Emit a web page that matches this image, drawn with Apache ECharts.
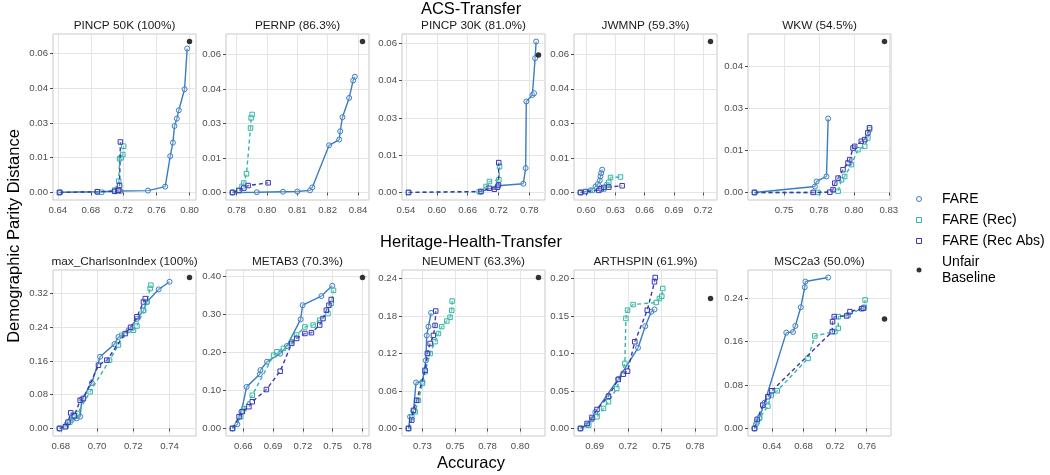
<!DOCTYPE html>
<html><head><meta charset="utf-8">
<script src="https://cdn.jsdelivr.net/npm/echarts@6/dist/echarts.min.js"></script>
<style>html,body{margin:0;padding:0;background:#fff}#chart{width:1050px;height:475px}</style>
</head><body><div id="chart"></div>
<script>
// ---------- titles ----------
const panelTitles = ['PINCP 50K (100%)','PERNP (86.3%)','PINCP 30K (81.0%)','JWMNP (59.3%)','WKW (54.5%)',
  'max_CharlsonIndex (100%)','METAB3 (70.3%)','NEUMENT (63.3%)','ARTHSPIN (61.9%)','MSC2a3 (50.0%)'];
const rowTitles = ['ACS-Transfer','Heritage-Health-Transfer'];
const seriesNames = ['FARE','FARE (Rec)','FARE (Rec Abs)','Unfair Baseline'];

// ---------- tick values and labels ----------
const xTicks = [
  [0.64,0.68,0.72,0.76,0.80],[0.78,0.795,0.81,0.825,0.84],[0.54,0.60,0.66,0.72,0.78],[0.60,0.63,0.66,0.69,0.72],[0.75,0.775,0.80,0.825],
  [0.68,0.70,0.72,0.74],[0.66,0.69,0.72,0.75,0.78],[0.725,0.75,0.775,0.80],[0.69,0.72,0.75,0.78],[0.64,0.68,0.72,0.76]];
const xTickLabels = [
  ['0.64','0.68','0.72','0.76','0.80'],['0.78','0.80','0.81','0.82','0.84'],['0.54','0.60','0.66','0.72','0.78'],['0.60','0.63','0.66','0.69','0.72'],['0.75','0.78','0.80','0.83'],
  ['0.68','0.70','0.72','0.74'],['0.66','0.69','0.72','0.75','0.78'],['0.73','0.75','0.78','0.80'],['0.69','0.72','0.75','0.78'],['0.64','0.68','0.72','0.76']];
const yTicks = [
  [0,0.015,0.03,0.045,0.06],[0,0.015,0.03,0.045,0.06],[0,0.015,0.03,0.045,0.06],[0,0.015,0.03,0.045,0.06],[0,0.015,0.03,0.045],
  [0,0.08,0.16,0.24,0.32],[0,0.1,0.2,0.3,0.4],[0,0.06,0.12,0.18,0.24],[0,0.05,0.1,0.15,0.2],[0,0.08,0.16,0.24]];
const yTickLabels = [
  ['0.00','0.01','0.03','0.04','0.06'],['0.00','0.01','0.03','0.04','0.06'],['0.00','0.01','0.03','0.04','0.06'],['0.00','0.01','0.03','0.04','0.06'],['0.00','0.01','0.03','0.04'],
  ['0.00','0.08','0.16','0.24','0.32'],['0.00','0.10','0.20','0.30','0.40'],['0.00','0.06','0.12','0.18','0.24'],['0.00','0.05','0.10','0.15','0.20'],['0.00','0.08','0.16','0.24']];

// ---------- data: [accuracy, demographic parity distance] ----------
const FARE_PINCP50K = [[0.643,0.0001],[0.688,0.0003],[0.710,0.0005],[0.716,0.0006],[0.7495,0.0008],[0.7705,0.0025],[0.7766,0.0157],[0.7798,0.0215],[0.7818,0.0287],[0.7846,0.0319],[0.787,0.0355],[0.794,0.0446],[0.7972,0.0622]];
const REC_PINCP50K = [[0.642,0],[0.693,0.0001],[0.709,0.001],[0.714,0.0049],[0.715,0.0146],[0.717,0.015],[0.719,0.0164],[0.72,0.020]];
const ABS_PINCP50K = [[0.642,0],[0.688,0.0003],[0.709,0.0005],[0.713,0.0008],[0.714,0.001],[0.715,0.003],[0.716,0.0218]];
const BASE_PINCP50K = [[0.80,0.0652]];

const FARE_PERNP = [[0.778,0],[0.790,0.0001],[0.8029,0.0003],[0.81,0.0004],[0.8163,0.0009],[0.8174,0.0022],[0.8257,0.0205],[0.8307,0.023],[0.8312,0.0266],[0.8323,0.0327],[0.8356,0.0411],[0.8376,0.0487],[0.8384,0.0503]];
const REC_PERNP = [[0.778,0],[0.7815,0.0008],[0.7827,0.0026],[0.7836,0.0041],[0.7849,0.0081],[0.7869,0.028],[0.7872,0.0324],[0.7877,0.0339]];
const ABS_PERNP = [[0.778,0],[0.7811,0.0009],[0.7836,0.0019],[0.7857,0.003],[0.7956,0.0042]];
const BASE_PERNP = [[0.8422,0.0656]];

const FARE_PINCP30K = [[0.686,0.0003],[0.7189,0.0027],[0.7682,0.0035],[0.7728,0.0098],[0.7741,0.0366],[0.7859,0.0392],[0.7892,0.0399],[0.7912,0.054],[0.7932,0.0607]];
const REC_PINCP30K = [[0.545,0],[0.6827,0.0003],[0.6958,0.0024],[0.7024,0.0044],[0.7208,0.0051],[0.7221,0.0104]];
const ABS_PINCP30K = [[0.545,0],[0.686,0.0004],[0.702,0.0017],[0.712,0.0013],[0.718,0.0021],[0.720,0.003],[0.7205,0.012]];
const BASE_PINCP30K = [[0.7978,0.0553]];

const FARE_JWMNP = [[0.5942,0],[0.6044,0.0009],[0.6096,0.0026],[0.612,0.0036],[0.614,0.0052],[0.6147,0.007],[0.6154,0.0084],[0.6164,0.0099]];
const REC_JWMNP = [[0.5942,0],[0.6062,0.0009],[0.6181,0.0015],[0.6215,0.0033],[0.6232,0.0044],[0.625,0.0065],[0.6352,0.0067]];
const ABS_JWMNP = [[0.5942,0],[0.5993,0.0004],[0.613,0.0009],[0.6154,0.0016],[0.6181,0.0022],[0.6232,0.0023],[0.6369,0.0029]];
const BASE_JWMNP = [[0.7275,0.0655]];

const FARE_WKW = [[0.7289,0],[0.7721,0.0021],[0.7733,0.0039],[0.7804,0.0057],[0.7816,0.0263]];
const REC_WKW = [[0.7289,0],[0.7744,0],[0.7887,0.0004],[0.7911,0.0045],[0.7934,0.0057],[0.7982,0.0099],[0.8029,0.0152],[0.8077,0.0164],[0.81,0.0194],[0.8112,0.0224]];
const ABS_WKW = [[0.7289,0],[0.7709,0],[0.7828,0.0001],[0.7851,0.001],[0.7863,0.0033],[0.7887,0.0051],[0.7922,0.0081],[0.7958,0.0105],[0.797,0.0117],[0.7994,0.0158],[0.8006,0.0164],[0.8053,0.0182],[0.8077,0.0188],[0.81,0.0212],[0.8112,0.023]];
const BASE_WKW = [[0.8219,0.0537]];

const FARE_CHARLSON = [[0.6793,0],[0.6833,0.01],[0.6861,0.02],[0.6888,0.024],[0.6907,0.028],[0.6916,0.069],[0.6971,0.108],[0.7017,0.17],[0.7096,0.2],[0.7118,0.217],[0.7174,0.233],[0.722,0.26],[0.7256,0.28],[0.7275,0.30],[0.734,0.33],[0.74,0.348]];
const REC_CHARLSON = [[0.6793,0],[0.683,0.006],[0.685,0.015],[0.687,0.0316],[0.6892,0.0356],[0.6962,0.087],[0.7069,0.162],[0.7118,0.198],[0.7137,0.221],[0.7201,0.233],[0.722,0.243],[0.7256,0.28],[0.7275,0.30],[0.7293,0.332],[0.7297,0.34]];
const ABS_CHARLSON = [[0.6793,0],[0.6825,0.004],[0.684,0.015],[0.6855,0.037],[0.6875,0.03],[0.6907,0.067],[0.6925,0.071],[0.7008,0.15],[0.7054,0.162],[0.7155,0.225],[0.7185,0.24],[0.722,0.265],[0.7256,0.30],[0.7266,0.308]];
const BASE_CHARLSON = [[0.751,0.358]];

const FARE_METAB3 = [[0.6491,0],[0.654,0.011],[0.658,0.044],[0.6633,0.109],[0.6766,0.142],[0.6772,0.153],[0.6839,0.175],[0.6971,0.196],[0.7038,0.216],[0.7177,0.286],[0.7197,0.323],[0.7386,0.347],[0.7495,0.374]];
const REC_METAB3 = [[0.6491,0],[0.6573,0.031],[0.6607,0.052],[0.669,0.087],[0.6905,0.192],[0.6938,0.201],[0.7004,0.21],[0.7087,0.227],[0.7137,0.245],[0.722,0.266],[0.7303,0.271],[0.7369,0.284],[0.7452,0.301],[0.7485,0.328],[0.7508,0.362]];
const ABS_METAB3 = [[0.6491,0],[0.6557,0.031],[0.659,0.044],[0.6656,0.057],[0.669,0.07],[0.6832,0.102],[0.6971,0.15],[0.7087,0.223],[0.7137,0.236],[0.722,0.249],[0.7286,0.251],[0.7369,0.271],[0.7402,0.288],[0.7436,0.31],[0.7462,0.323],[0.7485,0.338]];
const BASE_METAB3 = [[0.78,0.3956]];

const FARE_NEUMENT = [[0.7143,0],[0.7155,0.0187],[0.7181,0.028],[0.7201,0.0736],[0.725,0.0747],[0.7276,0.109],[0.7283,0.149],[0.7296,0.163],[0.7317,0.185]];
const REC_NEUMENT = [[0.7143,0],[0.7168,0.0187],[0.7194,0.0267],[0.7219,0.045],[0.725,0.072],[0.727,0.0907],[0.7309,0.12],[0.7347,0.139],[0.7373,0.152],[0.7398,0.163],[0.7437,0.172],[0.7462,0.178],[0.7475,0.189],[0.7478,0.204]];
const ABS_NEUMENT = [[0.7143,0],[0.7168,0.0133],[0.7181,0.029],[0.7206,0.045],[0.727,0.093],[0.7288,0.12],[0.7309,0.136],[0.7334,0.149],[0.7347,0.165],[0.7352,0.188]];
const BASE_NEUMENT = [[0.8141,0.2416]];

const FARE_ARTHSPIN = [[0.6773,0],[0.6832,0.0044],[0.6876,0.012],[0.6906,0.022],[0.7112,0.066],[0.7289,0.1076],[0.7354,0.1364],[0.7408,0.1556],[0.7437,0.1587]];
const REC_ARTHSPIN = [[0.6773,0],[0.6847,0.0044],[0.6921,0.0156],[0.698,0.0267],[0.7024,0.0356],[0.7098,0.0533],[0.7171,0.0867],[0.718,0.1467],[0.7195,0.1578],[0.7245,0.1653],[0.7452,0.168],[0.7481,0.1733],[0.7502,0.1764],[0.7511,0.1867]];
const ABS_ARTHSPIN = [[0.6773,0],[0.6832,0.0067],[0.6876,0.0147],[0.6921,0.0253],[0.7024,0.0431],[0.7112,0.0653],[0.7157,0.0724],[0.7195,0.0764],[0.726,0.1156],[0.7372,0.1578],[0.7437,0.1956],[0.7443,0.2013]];
const BASE_ARTHSPIN = [[0.7939,0.1733]];

const FARE_MSC2A3 = [[0.618,0],[0.6199,0.008],[0.6243,0.0203],[0.6307,0.0474],[0.6582,0.1766],[0.6667,0.1778],[0.6697,0.1889],[0.6765,0.2234],[0.6816,0.2603],[0.6824,0.2708],[0.7112,0.2782]];
const REC_MSC2A3 = [[0.618,0],[0.6213,0.0123],[0.6243,0.0185],[0.6349,0.0412],[0.6392,0.0615],[0.6468,0.0695],[0.6858,0.1292],[0.6943,0.1705],[0.7197,0.1785],[0.724,0.1846],[0.7242,0.2062],[0.7367,0.2092],[0.757,0.2234],[0.7579,0.2369]];
const ABS_MSC2A3 = [[0.618,0],[0.6213,0.0166],[0.6285,0.0431],[0.6349,0.0585],[0.64,0.0695],[0.7163,0.1785],[0.7167,0.1969],[0.7189,0.2062],[0.7346,0.2074],[0.7388,0.2154],[0.7536,0.2209],[0.7558,0.2215]];
const BASE_MSC2A3 = [[0.7825,0.2018]];

const panelData = [
  [FARE_PINCP50K, REC_PINCP50K, ABS_PINCP50K, BASE_PINCP50K],
  [FARE_PERNP, REC_PERNP, ABS_PERNP, BASE_PERNP],
  [FARE_PINCP30K, REC_PINCP30K, ABS_PINCP30K, BASE_PINCP30K],
  [FARE_JWMNP, REC_JWMNP, ABS_JWMNP, BASE_JWMNP],
  [FARE_WKW, REC_WKW, ABS_WKW, BASE_WKW],
  [FARE_CHARLSON, REC_CHARLSON, ABS_CHARLSON, BASE_CHARLSON],
  [FARE_METAB3, REC_METAB3, ABS_METAB3, BASE_METAB3],
  [FARE_NEUMENT, REC_NEUMENT, ABS_NEUMENT, BASE_NEUMENT],
  [FARE_ARTHSPIN, REC_ARTHSPIN, ABS_ARTHSPIN, BASE_ARTHSPIN],
  [FARE_MSC2A3, REC_MSC2A3, ABS_MSC2A3, BASE_MSC2A3]
];

// ---------- layout / style ----------
const colLefts = [53, 226, 402, 574, 748];
const panelW = 143, panelH = 166;
const rowTops = [34, 270];
const colors = ['#3a7dc0', '#34b6a6', '#3838b4', '#000000'];
const FONT = 'Liberation Sans, Arial, Helvetica, sans-serif';
const SQUARE = 'path://M0,0L10,0L10,10L0,10Z';

function extent(arr, k) {
  let lo = Infinity, hi = -Infinity;
  arr.forEach(s => s.forEach(p => { lo = Math.min(lo, p[k]); hi = Math.max(hi, p[k]); }));
  const pad = (hi - lo) * 0.05;
  return [lo - pad, hi + pad];
}
function labelFor(ticks, labels) {
  return v => { for (let i = 0; i < ticks.length; i++) if (Math.abs(ticks[i] - v) < 1e-9) return labels[i]; return ''; };
}

const grids = [], xAxes = [], yAxes = [], series = [], graphics = [];
for (let i = 0; i < 10; i++) {
  const r = Math.floor(i / 5), c = i % 5;
  const left = colLefts[c], top = rowTops[r];
  grids.push({ left: left, top: top, width: panelW, height: panelH, show: true,
    borderColor: '#c9c9c9', borderWidth: 1, backgroundColor: '#ffffff', containLabel: false });
  const xe = extent(panelData[i], 0), ye = extent(panelData[i], 1);
  xAxes.push({ type: 'value', gridIndex: i, min: xe[0], max: xe[1], scale: true,
    axisLine: { show: false },
    axisTick: { show: true, length: 3, lineStyle: { color: '#4d4d4d', width: 1 }, customValues: xTicks[i] },
    axisLabel: { customValues: xTicks[i], formatter: labelFor(xTicks[i], xTickLabels[i]),
      fontSize: 9.6, color: '#4d4d4d', fontFamily: FONT, margin: 5 },
    splitLine: { show: true, lineStyle: { color: '#e4e4e4', width: 1 } } });
  yAxes.push({ type: 'value', gridIndex: i, min: ye[0], max: ye[1], scale: true,
    axisLine: { show: false },
    axisTick: { show: true, length: 3, lineStyle: { color: '#4d4d4d', width: 1 }, customValues: yTicks[i] },
    axisLabel: { customValues: yTicks[i], formatter: labelFor(yTicks[i], yTickLabels[i]),
      fontSize: 9.6, color: '#4d4d4d', fontFamily: FONT, margin: 5 },
    splitLine: { show: true, lineStyle: { color: '#e4e4e4', width: 1 } } });
  graphics.push({ type: 'text', style: { text: panelTitles[i], x: left + panelW / 2, y: top - 8,
    align: 'center', verticalAlign: 'middle', fontSize: 11.8, fontFamily: FONT, fill: '#1a1a1a' } });

  for (let s = 0; s < 3; s++) {
    series.push({ name: seriesNames[s], type: 'line', xAxisIndex: i, yAxisIndex: i,
      data: panelData[i][s], symbol: s === 0 ? 'circle' : 'rect', symbolSize: s === 0 ? 5 : 4.5,
      showAllSymbol: true, animation: false, silent: true, z: 2 + s,
      lineStyle: { color: colors[s], width: 1.4, type: s === 0 ? 'solid' : [4, 3] },
      itemStyle: { color: 'rgba(255,255,255,0.25)', borderColor: colors[s], borderWidth: 1 } });
  }
  series.push({ name: seriesNames[3], type: 'scatter', xAxisIndex: i, yAxisIndex: i,
    data: panelData[i][3], symbol: 'circle', symbolSize: 5.5, animation: false, silent: true, z: 6,
    itemStyle: { color: '#000' } });
}

graphics.push({ type: 'text', style: { text: rowTitles[0], x: 471, y: 9, align: 'center', verticalAlign: 'middle', fontSize: 16.5, fontFamily: FONT, fill: '#000' } });
graphics.push({ type: 'text', style: { text: rowTitles[1], x: 471, y: 242, align: 'center', verticalAlign: 'middle', fontSize: 16.5, fontFamily: FONT, fill: '#000' } });
graphics.push({ type: 'text', style: { text: 'Accuracy', x: 471, y: 463, align: 'center', verticalAlign: 'middle', fontSize: 16.5, fontFamily: FONT, fill: '#000' } });
graphics.push({ type: 'text', rotation: Math.PI / 2, x: 14, y: 236,
  style: { text: 'Demographic Parity Distance', x: 0, y: 0, align: 'center', verticalAlign: 'middle', fontSize: 16.5, fontFamily: FONT, fill: '#000' } });

const chart = echarts.init(document.getElementById('chart'), null, { renderer: 'canvas' });
chart.setOption({
  animation: false,
  backgroundColor: '#ffffff',
  grid: grids, xAxis: xAxes, yAxis: yAxes, series: series,
  graphic: graphics,
  legend: {
    orient: 'vertical', left: 911, top: 186, itemWidth: 36, itemHeight: 5, itemGap: 5,
    selectedMode: false, symbolKeepAspect: true,
    formatter: n => n === 'Unfair Baseline' ? 'Unfair\nBaseline' : n,
    textStyle: { fontSize: 14, fontFamily: FONT, color: '#000', lineHeight: 16 },
    data: [
      { name: 'FARE', icon: 'circle', itemStyle: { color: '#fff', borderColor: colors[0], borderWidth: 1 } },
      { name: 'FARE (Rec)', icon: SQUARE, itemStyle: { color: '#fff', borderColor: colors[1], borderWidth: 1 } },
      { name: 'FARE (Rec Abs)', icon: SQUARE, itemStyle: { color: '#fff', borderColor: colors[2], borderWidth: 1 } },
      { name: 'Unfair Baseline', icon: 'circle', itemStyle: { color: '#000' } }
    ]
  }
});
</script></body></html>
